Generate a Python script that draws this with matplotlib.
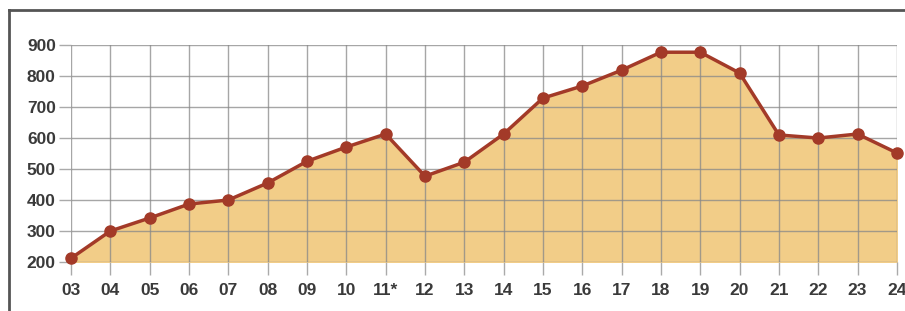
import matplotlib.pyplot as plt
from matplotlib.lines import Line2D

years = ["03", "04", "05", "06", "07", "08", "09", "10", "11*", "12", "13",
         "14", "15", "16", "17", "18", "19", "20", "21", "22", "23", "24"]
values = [212, 300, 342, 387, 400, 455, 525, 571, 613, 477, 522,
          613, 729, 768, 819, 877, 877, 810, 610, 600, 613, 552]
yticks = [200, 300, 400, 500, 600, 700, 800, 900]

line_color = "#a33a28"
fill_color = "#f2cd88"

fig = plt.figure(figsize=(9.05, 3.11), dpi=100)
ax = fig.add_axes([0.0785, 0.1576, 0.9125, 0.6974])

x = list(range(len(years)))
ax.fill_between(x, values, 200, color=fill_color, zorder=1)
ax.plot(x, values, color=line_color, lw=2.5, marker="o", ms=8,
        zorder=3, clip_on=False)

ax.set_xlim(0, len(years) - 1)
ax.set_ylim(200, 900)
ax.set_xticks(x)
ax.set_xticklabels(years)
ax.set_yticks(yticks)
ax.grid(True, color="#888888", lw=1, alpha=0.75, zorder=2)
ax.set_axisbelow(False)
for s in ax.spines.values():
    s.set_visible(False)
ax.tick_params(length=9, width=1, color="#aaaaaa", labelsize=12.5,
               labelcolor="#3a3a3a")
ax.tick_params(axis="x", pad=6)
ax.tick_params(axis="y", pad=2)
for lab in ax.get_xticklabels() + ax.get_yticklabels():
    lab.set_fontfamily("Liberation Sans")
    lab.set_fontweight("bold")

# outer frame (top and left edges)
fig.add_artist(Line2D([9 / 905, 1], [1 - 10 / 311, 1 - 10 / 311],
                      transform=fig.transFigure, color="#555555", lw=2))
fig.add_artist(Line2D([9 / 905, 9 / 905], [0, 1 - 10 / 311],
                      transform=fig.transFigure, color="#555555", lw=2))

fig.savefig("out.png", dpi=100)
